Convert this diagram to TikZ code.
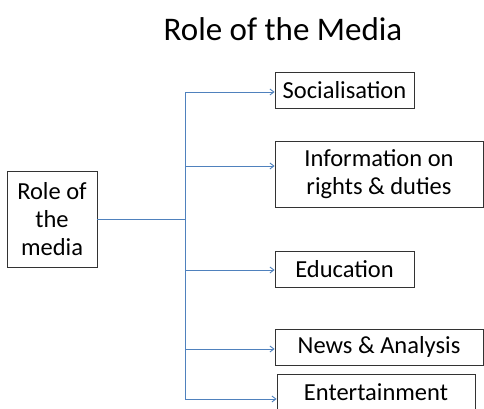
\documentclass[tikz,border=0pt]{standalone}
\usepackage{fontspec}
\setmainfont{Carlito}
\usetikzlibrary{arrows.meta,positioning}
\definecolor{mediablue}{RGB}{79,129,189}

\begin{document}
\begin{tikzpicture}[x=1pt, y=-1pt,
    every node/.style={font=\fontsize{24.5}{28}\selectfont},
    rolebox/.style={draw=black!80, line width=0.8pt, inner sep=0pt, align=center},
    branch/.style={mediablue, line width=0.9pt},
    arr/.style={branch, -{Straight Barb[length=4pt,width=6pt]}}]
    \useasboundingbox (0,0) rectangle (484,408);

    % Title
    \node[anchor=base, font=\fontsize{33}{40}\selectfont] (title) at (283,40) {Role of the Media};

    % Left box
    \node[rolebox, minimum width=90pt, minimum height=96pt] (media) at (52,219) {Role of\\the\\media};

    % Right boxes
    \node[rolebox, minimum width=139pt, minimum height=36pt] (soc) at (344.5,90) {Socialisation};
    \node[rolebox, minimum width=208pt, minimum height=66pt] (info) at (379,174) {Information on\\rights \& duties};
    \node[rolebox, minimum width=139pt, minimum height=36pt] (edu) at (344.5,269) {Education};
    \node[rolebox, minimum width=208pt, minimum height=36pt] (news) at (379,347) {News \& Analysis};
    \node[rolebox, minimum width=198pt, minimum height=36pt] (ent) at (376,392) {Entertainment};

    % Trunk
    \coordinate (hub) at (185,219);
    \coordinate (b1) at (185,92);
    \coordinate (b2) at (185,166);
    \coordinate (b3) at (185,270);
    \coordinate (b4) at (185,349);
    \coordinate (b5) at (185,399);
    \draw[branch] (media.east) -- (hub);
    \draw[branch] (b1) -- (b5);

    % Branches
    \draw[arr] (b1) -- (b1 -| soc.west);
    \draw[arr] (b2) -- (b2 -| info.west);
    \draw[arr] (b3) -- (b3 -| edu.west);
    \draw[arr] (b4) -- (b4 -| news.west);
    \draw[arr] (b5) -- (b5 -| ent.west);
\end{tikzpicture}
\end{document}
